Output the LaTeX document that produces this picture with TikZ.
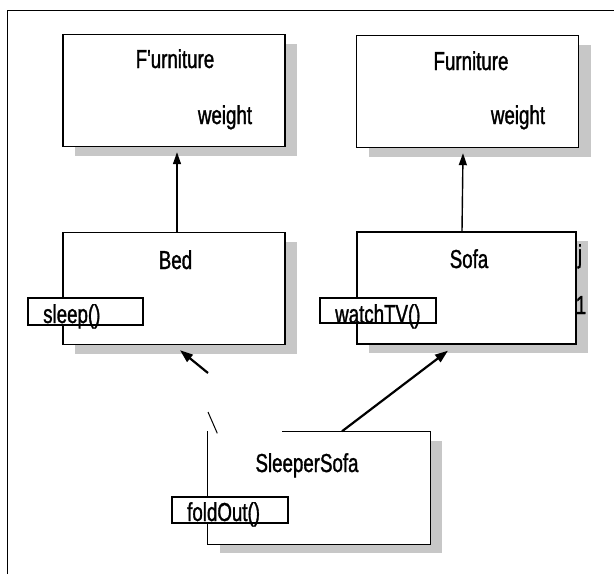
\documentclass[tikz,border=0pt]{standalone}
\usepackage{fontspec}
\setmainfont{Liberation Sans}
\newfontfamily\lbl[FakeStretch=0.72,FakeBold=1.2]{Liberation Sans}
\usetikzlibrary{arrows.meta,shadows}
\begin{document}
\begin{tikzpicture}[x=1pt,y=-1pt,
  classbox/.style={draw=black, line width=1.4pt, fill=white, inner sep=0pt,
    minimum width=222pt, minimum height=112pt,
    drop shadow={shadow xshift=12pt, shadow yshift=-9pt, opacity=1,
      fill=black!22}},
  methodbox/.style={draw=black, line width=1.4pt, fill=white, inner sep=0pt,
    minimum width=116pt, minimum height=26pt},
  lab/.style={font=\lbl\fontsize{26}{26}\selectfont, inner sep=0pt, anchor=base},
  mlab/.style={lab, anchor=base west},
  arr/.style={line width=1.4pt, -{Triangle[length=12pt,width=8pt]}},
  arrb/.style={line width=2.2pt, -{Triangle[length=13pt,width=9pt]}}]
\useasboundingbox (0,0) rectangle (614,574);
% outer frame
\draw[line width=1pt] (7,574) -- (7,10) -- (614,10);
% class boxes
\node[classbox] (f1) at (174,90.5) {};
\node[classbox] (f2) at (467.5,91.5) {};
\node[classbox] (bed) at (174,288.5) {};
\node[classbox, minimum width=219pt] (sofa) at (466.5,288) {};
\node[classbox, draw=none] (sleeper) at (319,488) {};
\draw[line width=1.4pt] ([xshift=75pt]sleeper.north west) -- (sleeper.north east)
  -- (sleeper.south east) -- (sleeper.south west) -- (sleeper.north west);
% titles and attributes
\node[lab] (t1) at (175,68) {F'urniture};
\node[lab] (w1) at (225,124) {weight};
\node[lab] (t2) at (471,70) {Furniture};
\node[lab] (w2) at (518,124) {weight};
\node[lab] (tb) at (175.5,269) {Bed};
\node[lab] (ts) at (469,268) {Sofa};
\node[lab] (tss) at (307,472) {SleeperSofa};
\node[lab] (aj) at (580,263) {j};
\node[lab] (a1) at (581,314) {1};
% method boxes
\node[methodbox, minimum width=115pt, minimum height=27pt] (msleep) at (85.5,311.5) {};
\node[mlab] (lsleep) at (43,323) {sleep()};
\node[methodbox, minimum height=25pt] (mtv) at (378,310.5) {};
\node[mlab] (ltv) at (335,323) {watchTV()};
\node[methodbox] (mfold) at (230,510) {};
\node[mlab] (lfold) at (187,521) {foldOut()};
% inheritance arrows
\draw[arr] ([xshift=3pt]bed.north) -- ([xshift=3pt,yshift=-5pt]f1.south);
\draw[arr] ([xshift=-4.5pt]sofa.north) -- ([xshift=-4.5pt,yshift=-5pt]f2.south);
\draw[arrb] ([xshift=23pt]sleeper.north) -- ([xshift=-18.5pt,yshift=-6pt]sofa.south);
\coordinate (ba) at (208,373);
\coordinate (bs) at (208,412);
\draw[arrb] (ba) -- ([xshift=6pt,yshift=-5pt]bed.south);
\draw[line width=1pt] (bs) -- ([xshift=10pt,yshift=-2pt]sleeper.north west);
\end{tikzpicture}
\end{document}
